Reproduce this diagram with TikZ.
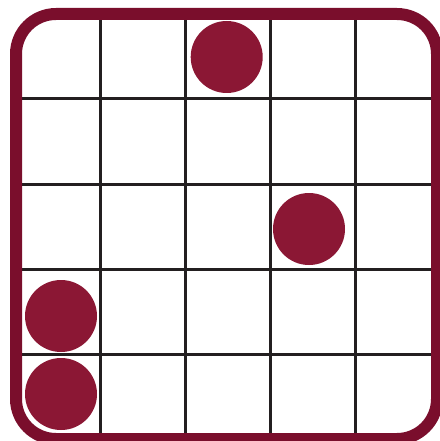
\documentclass[tikz,border=0pt]{standalone}
\definecolor{framered}{RGB}{122,14,44}
\definecolor{dotred}{RGB}{139,23,52}
\definecolor{gridgray}{RGB}{35,31,32}
\begin{document}
\begin{tikzpicture}[x=1pt,y=-1pt,
  gridline/.style={draw=gridgray,line width=3pt},
  frame/.style={draw=framered,line width=12pt,rounded corners=40pt},
  dot/.style={circle,fill=dotred,draw=none,minimum size=72pt,inner sep=0pt}]
\useasboundingbox (0,0) rectangle (439,441);
\foreach \x in {100,185,270,355} \draw[gridline] (\x,14) -- (\x,439);
\foreach \y in {99,184,269,354} \draw[gridline] (16,\y) -- (437,\y);
\draw[frame] (16,14) rectangle (437,439);
\node[dot] (d1) at (226.7,57) {};
\node[dot] (d2) at (309,229) {};
\node[dot] (d3) at (61,316) {};
\node[dot] (d4) at (61,394) {};
\end{tikzpicture}
\end{document}
